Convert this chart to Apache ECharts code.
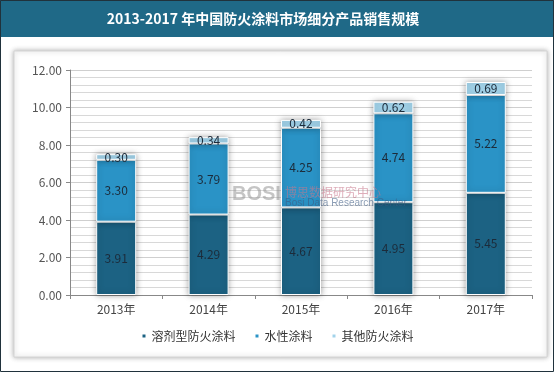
<!DOCTYPE html>
<html><head><meta charset="utf-8">
<script src="https://cdn.jsdelivr.net/npm/echarts@6/dist/echarts.min.js"></script>
<style>html,body{margin:0;padding:0;background:#fff;}#c{width:554px;height:372px;}</style>
</head><body><div id="c"></div>
<script>
const categories = ['2013年','2014年','2015年','2016年','2017年'];
const solventBased = [3.91, 4.29, 4.67, 4.95, 5.45];
const waterBased = [3.30, 3.79, 4.25, 4.74, 5.22];
const otherCoatings = [0.30, 0.34, 0.42, 0.62, 0.69];
const seriesNames = ['溶剂型防火涂料', '水性涂料', '其他防火涂料'];
const titleText = '2013-2017 年中国防火涂料市场细分产品销售规模';

const chart = echarts.init(document.getElementById('c'), null, {renderer:'canvas'});
const font = '"Noto Sans CJK SC", "Liberation Sans", sans-serif';
const barStyle = (color) => ({color: color, borderColor:'#ffffff', borderWidth:1, shadowBlur:6, shadowColor:'rgba(0,0,0,0.35)', shadowOffsetX:0});
const lbl = {show:true, position:'inside', color:'#1c2b3a', fontSize:12, fontFamily:font, formatter: p => p.value.toFixed(2)};
chart.setOption({
  animation:false,
  backgroundColor:'#ffffff',
  graphic:[
    {type:'rect', shape:{x:0,y:0,width:554,height:37}, style:{fill:'#1f6987'}, z:-10},
    {type:'rect', shape:{x:0.5,y:0.5,width:553,height:371}, style:{fill:'none', stroke:'#20323c', lineWidth:1}, z:-9},
    {type:'rect', shape:{x:14,y:51,width:533,height:306}, style:{fill:'#ffffff', stroke:'#d4d4d4', lineWidth:1, shadowBlur:5, shadowColor:'rgba(0,0,0,0.3)'}, z:-8},
    {type:'text', x:263, y:19, style:{text:titleText, fill:'#ffffff', font:'bold 14px ' + font, align:'center', verticalAlign:'middle'}, z:10},
    {type:'text', x:232, y:194, style:{text:'BOSI', fill:'rgba(150,150,150,0.55)', font:'bold 20px "Liberation Sans", sans-serif', align:'left', verticalAlign:'middle'}, z:10},
    {type:'text', x:285, y:192, style:{text:'博思数据研究中心', fill:'rgba(200,120,140,0.6)', font:'12px ' + font, align:'left', verticalAlign:'middle'}, z:10},
    {type:'text', x:285, y:203, style:{text:'Bosi Data Research Center', fill:'rgba(60,90,130,0.6)', font:'10px "Liberation Sans", sans-serif', align:'left', verticalAlign:'middle'}, z:10}
  ],
  grid:{left:70, right:22, top:70, bottom:77},
  legend:{
    data: seriesNames, bottom:25, left:'center', itemWidth:5, itemHeight:5, itemGap:18,
    icon:'rect', textStyle:{fontSize:12, color:'#333', fontFamily:font}
  },
  xAxis:{
    type:'category', data:categories,
    axisLine:{lineStyle:{color:'#888'}}, axisTick:{show:true, length:4, lineStyle:{color:'#888'}},
    axisLabel:{color:'#444', fontSize:12, fontFamily:font, margin:8}
  },
  yAxis:{
    type:'value', min:0, max:12, interval:2,
    axisLine:{show:true, lineStyle:{color:'#888'}}, axisTick:{show:true, length:4, lineStyle:{color:'#888'}},
    axisLabel:{color:'#555', fontSize:12, fontFamily:font, formatter: v => v.toFixed(2), margin:8},
    splitLine:{show:true, lineStyle:{color:'#cfcfcf'}},
    minorTick:{show:false, splitNumber:5},
    minorSplitLine:{show:true, lineStyle:{color:'#d8d8d8'}}
  },
  series:[
    {name:seriesNames[0], type:'bar', stack:'a', barWidth:40, data:solventBased, itemStyle:barStyle('#1c6283'), label:lbl},
    {name:seriesNames[1], type:'bar', stack:'a', barWidth:40, data:waterBased, itemStyle:barStyle('#2a93c6'), label:lbl},
    {name:seriesNames[2], type:'bar', stack:'a', barWidth:40, data:otherCoatings, itemStyle:barStyle('#a2d3ea'), label:lbl}
  ]
});
</script></body></html>
